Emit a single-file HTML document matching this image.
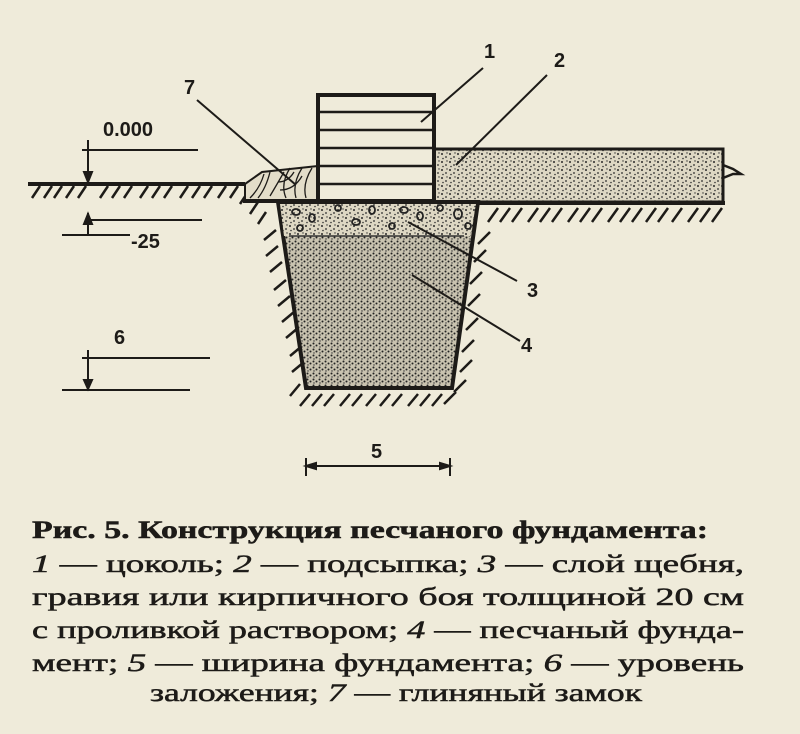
<!DOCTYPE html>
<html><head><meta charset="utf-8"><style>
body{margin:0;background:#efebda;}
.wrap{position:relative;width:800px;height:734px;overflow:hidden;background:#efebda;}
svg{position:absolute;left:0;top:0}
</style></head><body><div class="wrap">
<svg width="800" height="734" viewBox="0 0 800 734">
<defs>
<pattern id="dots" width="8" height="8" patternUnits="userSpaceOnUse">
<rect width="8" height="8" fill="#ddd7c3"/>
<circle cx="2" cy="2" r="1" fill="#2a2a2a"/><circle cx="6" cy="5" r="0.9" fill="#2a2a2a"/><circle cx="3" cy="6.5" r="0.8" fill="#333"/><circle cx="7" cy="1" r="0.7" fill="#333"/>
</pattern>
<pattern id="dots2" width="6" height="6" patternUnits="userSpaceOnUse">
<rect width="6" height="6" fill="#c9c3b0"/>
<circle cx="1.5" cy="1.5" r="1" fill="#222"/><circle cx="4.5" cy="3.5" r="1" fill="#222"/><circle cx="2" cy="5" r="0.7" fill="#333"/>
</pattern>
</defs>
<g stroke="#1d1b18" fill="none">
<line x1="28" y1="184" x2="245" y2="184" stroke-width="4"/>
<g stroke-width="2.5">
<path d="M32 198l8-12M44 198l8-12M54 198l8-12M66 198l8-12M78 198l8-12M100 198l8-12M112 198l8-12M124 198l8-12M140 198l8-12M152 198l8-12M164 198l8-12M180 198l8-12M192 198l8-12M204 198l8-12M218 198l8-12M230 198l8-12M240 204l8-12M250 214l8-12M258 224l8-12"/>
<path d="M264 240l12-10M266 256l12-10M270 272l12-10M274 290l12-10M278 306l12-10M282 322l12-10M286 338l12-10M290 356l12-10M292 372l12-10M290 396l10-12M300 406l10-12M312 406l10-12M324 406l10-12M340 406l10-12M352 406l10-12M366 406l10-12M380 406l10-12M392 406l10-12M408 406l10-12M420 406l10-12M432 406l10-12M444 404l12-12M454 392l12-12M460 372l12-12M462 352l12-12M466 330l12-12M468 306l12-12M470 284l12-12M474 262l12-12M478 244l12-12"/>
<path d="M488 222l10-14M500 222l10-14M512 222l10-14M528 222l10-14M540 222l10-14M552 222l10-14M568 222l10-14M580 222l10-14M592 222l10-14M608 222l10-14M620 222l10-14M632 222l10-14M646 222l10-14M658 222l10-14M672 222l10-14M688 222l10-14M700 222l10-14M712 222l10-14"/>
</g>
</g>
<rect x="434" y="149" width="289" height="53" fill="url(#dots)" stroke="#1d1b18" stroke-width="3"/>
<path d="M723 165l10 4l8 5l-8 0l-10 4" stroke="#1d1b18" stroke-width="2.5" fill="none"/>
<line x1="478" y1="203" x2="725" y2="203" stroke="#1d1b18" stroke-width="4"/>
<path d="M278 202L478 202L452 388L306 388Z" fill="url(#dots2)" stroke="#1d1b18" stroke-width="4"/>
<path d="M280 204L476 204L470 236L284 236Z" fill="url(#dots)"/>
<g fill="none" stroke="#222" stroke-width="1.8">
<ellipse cx="296" cy="212" rx="4" ry="3"/><ellipse cx="312" cy="218" rx="3" ry="4"/><ellipse cx="338" cy="208" rx="3" ry="3"/><ellipse cx="356" cy="222" rx="4" ry="3"/><ellipse cx="372" cy="210" rx="3" ry="4"/><ellipse cx="392" cy="226" rx="3" ry="3"/><ellipse cx="404" cy="210" rx="4" ry="3"/><ellipse cx="420" cy="216" rx="3" ry="4"/><ellipse cx="440" cy="208" rx="3" ry="3"/><ellipse cx="458" cy="214" rx="4" ry="5"/><ellipse cx="468" cy="226" rx="3" ry="3"/><ellipse cx="300" cy="228" rx="3" ry="3"/>
</g>
<line x1="289" y1="236" x2="464" y2="236" stroke="#333" stroke-width="1.5"/>
<path d="M245 184L262 172L318 166L318 200L245 200Z" fill="#e3ddc9" stroke="#1d1b18" stroke-width="2"/>
<g stroke="#1d1b18" stroke-width="1.3" fill="none">
<path d="M250 198q10-10 14-24M258 198q8-10 12-26M286 198q-6-14 4-30M296 198q-4-14 6-30M306 198q-4-14 6-30M270 196q6-10 14-24"/>
<path d="M278 182q10 0 16 -10M280 190q14 0 22-14"/>
</g>
<line x1="243" y1="201" x2="280" y2="201" stroke="#1d1b18" stroke-width="4"/>
<rect x="318" y="95" width="116" height="106" fill="#efebda" stroke="#1d1b18" stroke-width="4"/>
<g stroke="#1d1b18" stroke-width="2.5">
<line x1="318" y1="112" x2="434" y2="112"/><line x1="318" y1="130" x2="434" y2="130"/><line x1="318" y1="148" x2="434" y2="148"/><line x1="318" y1="166" x2="434" y2="166"/><line x1="318" y1="184" x2="434" y2="184"/>
</g>
<g stroke="#1d1b18" stroke-width="2" fill="none">
<line x1="197" y1="100" x2="296" y2="185"/>
<line x1="421" y1="122" x2="483" y2="68"/>
<line x1="456" y1="165" x2="547" y2="75"/>
<line x1="408" y1="222" x2="517" y2="281"/>
<line x1="412" y1="275" x2="520" y2="341"/>
<line x1="82" y1="150" x2="198" y2="150"/>
<line x1="88" y1="140" x2="88" y2="182"/><path d="M84 172l4 10l4-10z" fill="#1d1b18"/>
<line x1="88" y1="220" x2="202" y2="220"/>
<line x1="62" y1="235" x2="130" y2="235"/>
<line x1="88" y1="213" x2="88" y2="235"/><path d="M84 224l4-10l4 10z" fill="#1d1b18"/>
<line x1="82" y1="358" x2="210" y2="358"/>
<line x1="62" y1="390" x2="190" y2="390"/>
<line x1="88" y1="350" x2="88" y2="389"/><path d="M84 380l4 9l4-9z" fill="#1d1b18"/>
<line x1="306" y1="466" x2="450" y2="466"/>
<line x1="306" y1="458" x2="306" y2="476"/><line x1="450" y1="458" x2="450" y2="476"/>
<path d="M306 466l10-3v6z M450 466l-10-3v6z" fill="#1d1b18"/>
</g>
<g font-family="Liberation Sans, sans-serif" font-weight="bold" fill="#1d1b18" font-size="20">
<text x="103" y="136">0.000</text>
<text x="131" y="248">-25</text>
<text x="114" y="344">6</text>
<text x="371" y="458">5</text>
<text x="184" y="94">7</text>
<text x="484" y="58">1</text>
<text x="554" y="67">2</text>
<text x="527" y="297">3</text>
<text x="521" y="352">4</text>
</g>
<g font-family="Liberation Serif, serif" font-size="25" fill="#1d1b18" stroke="#1d1b18" stroke-width="0.5" lengthAdjust="spacingAndGlyphs">
<text x="32" y="538" font-weight="bold" textLength="676" lengthAdjust="spacingAndGlyphs">Рис. 5. Конструкция песчаного фундамента:</text>
<text x="32" y="572" textLength="712" lengthAdjust="spacingAndGlyphs"><tspan font-style="italic">1</tspan> — цоколь; <tspan font-style="italic">2</tspan> — подсыпка; <tspan font-style="italic">3</tspan> — слой щебня,</text>
<text x="32" y="605" textLength="712" lengthAdjust="spacingAndGlyphs">гравия или кирпичного боя толщиной 20 см</text>
<text x="32" y="638" textLength="712" lengthAdjust="spacingAndGlyphs">с проливкой раствором; <tspan font-style="italic">4</tspan> — песчаный фунда-</text>
<text x="32" y="671" textLength="712" lengthAdjust="spacingAndGlyphs">мент; <tspan font-style="italic">5</tspan> — ширина фундамента; <tspan font-style="italic">6</tspan> — уровень</text>
<text x="150" y="701" textLength="492" lengthAdjust="spacingAndGlyphs">заложения; <tspan font-style="italic">7</tspan> — глиняный замок</text>
</g>
</svg>
</div></body></html>
